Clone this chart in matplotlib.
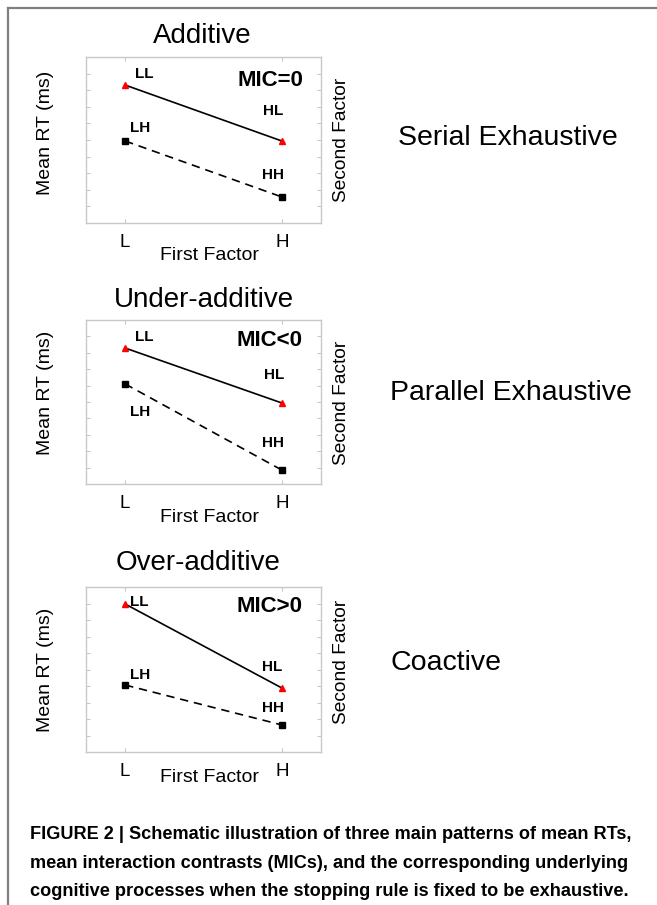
import numpy as np
import matplotlib.pyplot as plt
from matplotlib.lines import Line2D

plt.rcParams['font.family'] = ['Liberation Sans', 'DejaVu Sans']

# =======================
# DATA
# =======================
first_factor = ["L", "H"]
titles = ["Additive", "Under-additive", "Over-additive"]
mic_labels = ["MIC=0", "MIC<0", "MIC>0"]
processes = ["Serial Exhaustive", "Parallel Exhaustive", "Coactive"]

# mean RT (arbitrary units) for second factor low / high
rt_low = [[8.31, 4.94], [8.29, 4.94], [8.97, 3.88]]    # LL, HL
rt_high = [[4.94, 1.57], [6.10, 0.85], [4.06, 1.64]]   # LH, HH

caption = ("FIGURE 2 | Schematic illustration of three main patterns of mean RTs,\n"
           "mean interaction contrasts (MICs), and the corresponding underlying\n"
           "cognitive processes when the stopping rule is fixed to be exhaustive.")

# =======================
# LAYOUT (pixels)
# =======================
W, H = 657, 905
fig = plt.figure(figsize=(W / 100, H / 100), dpi=100)

def fx(px):
    return px / W

def fy(py):
    return 1 - py / H

boxes = [(57, 223), (320, 484), (587, 752)]          # top, bottom of each axes
title_y = [36, 300, 563]
title_x = [202, 204, 198]
ylab_y = [133, 393, 670]
sec_y = [140, 403, 662]
xlab_y = [255, 517, 777]
proc_y = [138, 393, 663]
proc_x = [398, 390, 390]

# point label positions in axes fraction: LL, HL, LH, HH
lab_pos = [
    [(0.21, 0.90), (0.753, 0.675), (0.187, 0.572), (0.749, 0.289)],
    [(0.21, 0.896), (0.757, 0.665), (0.187, 0.439), (0.749, 0.25)],
    [(0.187, 0.909), (0.749, 0.515), (0.187, 0.467), (0.749, 0.267)],
]
mic_y = [0.861, 0.878, 0.879]

gray = "#c8c8c8"

for i in range(3):
    top, bot = boxes[i]
    ax = fig.add_axes([fx(86), fy(bot), fx(321) - fx(86), fy(top) - fy(bot)])
    x = np.arange(1, 3)

    ax.plot(x, rt_low[i], color="black", lw=1.2, zorder=2)
    ax.plot(x, rt_high[i], color="black", lw=1.2, ls=(0, (5, 3.5)), zorder=2)
    ax.plot(x, rt_low[i], ls="none", marker="^", ms=5, color="red", zorder=3)
    ax.plot(x, rt_high[i], ls="none", marker="s", ms=4.5, color="black", zorder=3)

    ax.set_xlim(0.75, 2.25)
    ax.set_ylim(0, 10)
    ax.set_xticks(x)
    ax.set_xticklabels(first_factor, fontsize=13.5)
    ax.set_yticks(np.arange(1, 10))
    ax.set_yticklabels([])
    ax.tick_params(direction="in", length=3, color=gray, top=True, right=True, pad=8)
    for s in ax.spines.values():
        s.set_color(gray)
        s.set_linewidth(1.0)

    for name, (px, py) in zip(["LL", "HL", "LH", "HH"], lab_pos[i]):
        ax.text(px, py, name, transform=ax.transAxes, fontsize=11,
                fontweight="bold", ha="left", va="center")
    ax.text(0.923, mic_y[i], mic_labels[i], transform=ax.transAxes,
            fontsize=16, fontweight="bold", ha="right", va="center")

    fig.text(fx(title_x[i]), fy(title_y[i]), titles[i], fontsize=20,
             ha="center", va="center")
    fig.text(fx(45), fy(ylab_y[i]), "Mean RT (ms)", fontsize=14,
             rotation=90, ha="center", va="center")
    fig.text(fx(342), fy(sec_y[i]), "Second Factor", fontsize=13.8,
             rotation=90, ha="center", va="center")
    fig.text(fx(209), fy(xlab_y[i]), "First Factor", fontsize=14,
             ha="center", va="center")
    fig.text(fx(proc_x[i]), fy(proc_y[i]), processes[i], fontsize=20.5,
             ha="left", va="center")

# caption
fig.text(fx(30), fy(826), caption, fontsize=13.1, fontweight="bold",
         ha="left", va="top", linespacing=1.9)

# frame lines on top and left
fig.add_artist(Line2D([fx(8), fx(657)], [fy(8), fy(8)], color="#808080", lw=1.6))
fig.add_artist(Line2D([fx(8), fx(8)], [fy(8), 0], color="#808080", lw=1.6))

fig.savefig("out.png", dpi=100)
